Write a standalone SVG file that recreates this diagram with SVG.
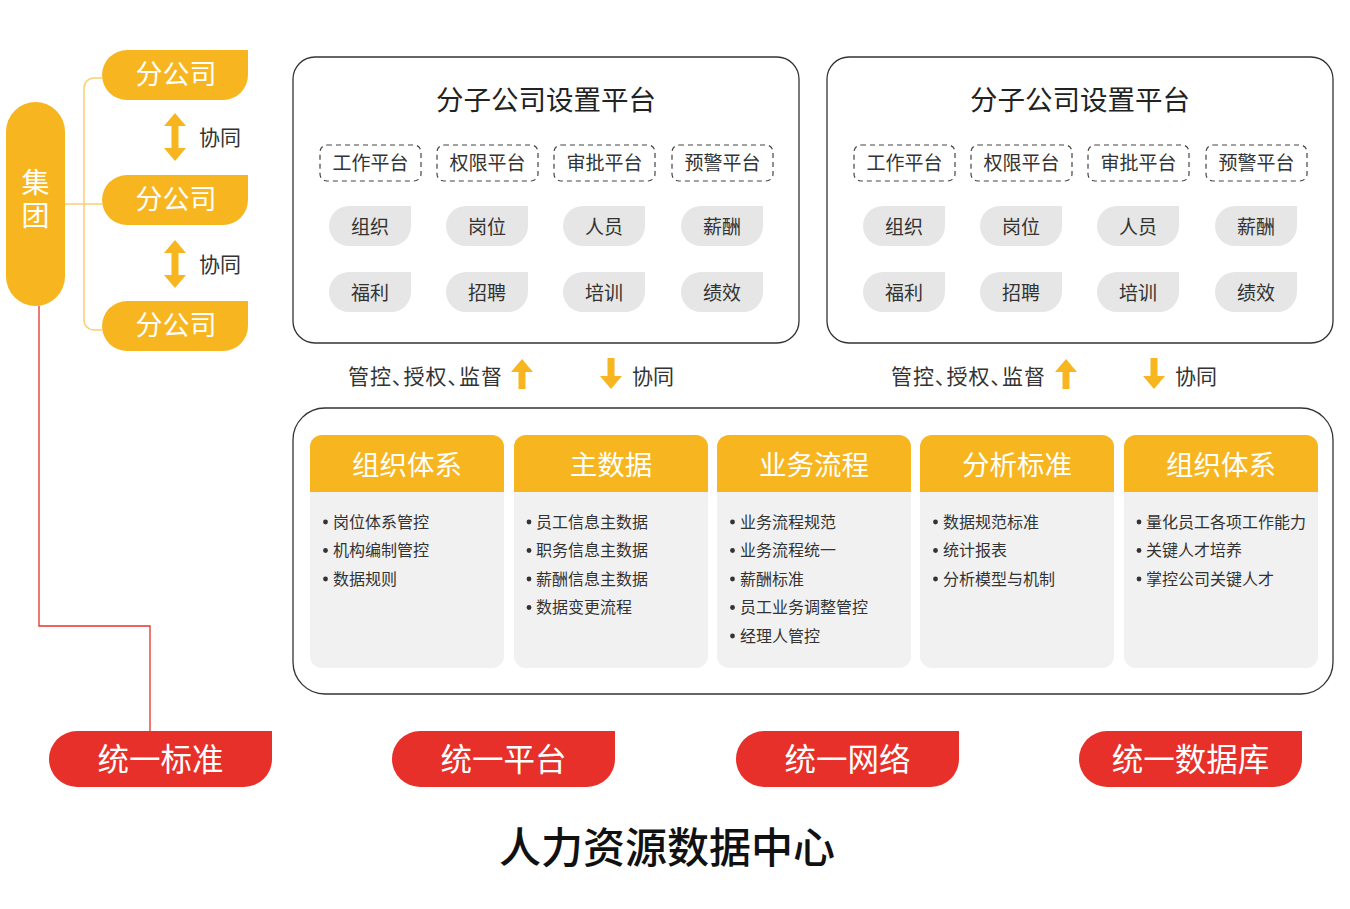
<svg xmlns="http://www.w3.org/2000/svg" width="1350" height="909" viewBox="0 0 1350 909">
<style>
text{font-family:"Noto Sans CJK SC","Noto Sans",sans-serif;}
.y{fill:#F7B61F;}
.r{fill:#E8302A;}
.wt{fill:#fff;text-anchor:middle;}
.dk{fill:#333;}
.ct{text-anchor:middle;}
.panel{fill:#fff;stroke:#333;stroke-width:1.3;}
.dash{fill:#fff;stroke:#444;stroke-width:1.2;stroke-dasharray:5 4;}
.tag{fill:#E6E6E6;}
.card{fill:#F1F1F1;}
.t19{font-size:19px;}
.t16{font-size:16px;}
.dot{fill:#333;}
.hd{font-size:27.5px;}
.palt{font-feature-settings:"palt" 1;letter-spacing:1px;}
.vert{writing-mode:vertical-rl;letter-spacing:5px;}
</style>
<defs>
<path id="sub" d="M25,0 H146 V25 A25,25 0 0 1 121,50 H25 A25,25 0 0 1 25,0 Z"/>
<path id="tagp" d="M20,0 H82 V20 A20,20 0 0 1 62,40 H20 A20,20 0 0 1 20,0 Z"/>
<path id="btn" d="M28,0 H223 V28 A28,28 0 0 1 195,56 H28 A28,28 0 0 1 28,0 Z"/>
<path id="dbl" d="M0,0 L11,13 H3.5 V35 H11 L0,48 L-11,35 H-3.5 V13 H-11 Z"/>
<path id="up" d="M0,0 L11,13 H3.5 V30 H-3.5 V13 H-11 Z"/>
<path id="down" d="M0,31 L11,18 H3.5 V0 H-3.5 V18 H-11 Z"/>
<path id="hdr" d="M0,57 V12 A12,12 0 0 1 12,0 H182 A12,12 0 0 1 194,12 V57 Z"/>
<g id="panelContent">
<rect class="panel" x="0" y="0" width="506" height="286" rx="22"/>
<text x="253" y="53" class="ct" font-size="27.5" fill="#222">分子公司设置平台</text>
<rect class="dash" x="27" y="88" width="101" height="36" rx="7"/>
<rect class="dash" x="144" y="88" width="101" height="36" rx="7"/>
<rect class="dash" x="261" y="88" width="101" height="36" rx="7"/>
<rect class="dash" x="379" y="88" width="101" height="36" rx="7"/>
<text class="dk ct t19" x="77.5" y="113">工作平台</text>
<text class="dk ct t19" x="194.5" y="113">权限平台</text>
<text class="dk ct t19" x="311.5" y="113">审批平台</text>
<text class="dk ct t19" x="429.5" y="113">预警平台</text>
<use href="#tagp" class="tag" x="36" y="149"/>
<use href="#tagp" class="tag" x="153" y="149"/>
<use href="#tagp" class="tag" x="270" y="149"/>
<use href="#tagp" class="tag" x="388" y="149"/>
<use href="#tagp" class="tag" x="36" y="215"/>
<use href="#tagp" class="tag" x="153" y="215"/>
<use href="#tagp" class="tag" x="270" y="215"/>
<use href="#tagp" class="tag" x="388" y="215"/>
<text class="dk ct t19" x="77" y="177">组织</text>
<text class="dk ct t19" x="194" y="177">岗位</text>
<text class="dk ct t19" x="311" y="177">人员</text>
<text class="dk ct t19" x="429" y="177">薪酬</text>
<text class="dk ct t19" x="77" y="243">福利</text>
<text class="dk ct t19" x="194" y="243">招聘</text>
<text class="dk ct t19" x="311" y="243">培训</text>
<text class="dk ct t19" x="429" y="243">绩效</text>
</g>
</defs>

<g id="connectors" fill="none">
<path d="M65,204 H102" stroke="#F9CF73" stroke-width="1.5"/>
<path d="M102,78 H94 A10,10 0 0 0 84,88 V320 A10,10 0 0 0 94,330 H102" stroke="#F9CF73" stroke-width="1.5"/>
<path d="M39,306 V626 H150 V731" stroke="#E8302A" stroke-width="1.3"/>
</g>

<g id="group-jituan">
<rect class="y" x="6" y="102" width="59" height="204" rx="29.5"/>
<text class="wt vert" x="35.5" y="201" font-size="28">集团</text>
</g>

<g id="sub1"><use href="#sub" class="y" x="102" y="50"/><text class="wt" x="176" y="84" font-size="27">分公司</text></g>
<g id="sub2"><use href="#sub" class="y" x="102" y="175"/><text class="wt" x="176" y="209" font-size="27">分公司</text></g>
<g id="sub3"><use href="#sub" class="y" x="102" y="301"/><text class="wt" x="176" y="335" font-size="27">分公司</text></g>

<g id="sync1"><use href="#dbl" class="y" x="175" y="113"/><text class="dk" x="199" y="145" font-size="21">协同</text></g>
<g id="sync2"><use href="#dbl" class="y" x="175" y="240"/><text class="dk" x="199" y="272" font-size="21">协同</text></g>

<g id="panel-left"><use href="#panelContent" x="293" y="57"/></g>
<g id="panel-right"><use href="#panelContent" x="827" y="57"/></g>

<g id="flow-left">
<text class="dk palt" x="348" y="384" font-size="21">管控、授权、监督</text>
<use href="#up" class="y" x="522" y="359"/>
<use href="#down" class="y" x="611" y="358"/>
<text class="dk" x="632" y="384" font-size="21">协同</text>
</g>
<g id="flow-right">
<text class="dk palt" x="891" y="384" font-size="21">管控、授权、监督</text>
<use href="#up" class="y" x="1066" y="359"/>
<use href="#down" class="y" x="1154" y="358"/>
<text class="dk" x="1175" y="384" font-size="21">协同</text>
</g>

<g id="platform">
<rect class="panel" x="293" y="408" width="1040" height="286" rx="32"/>
</g>

<g id="card1">
<rect class="card" x="310" y="435" width="194" height="233" rx="12"/>
<use href="#hdr" class="y" x="310" y="435"/>
<text class="wt hd" x="407" y="475">组织体系</text>
<circle class="dot" cx="325.5" cy="522" r="2.4"/><text class="dk t16" x="333" y="527.5">岗位体系管控</text>
<circle class="dot" cx="325.5" cy="550.5" r="2.4"/><text class="dk t16" x="333" y="556">机构编制管控</text>
<circle class="dot" cx="325.5" cy="579" r="2.4"/><text class="dk t16" x="333" y="584.5">数据规则</text>
</g>
<g id="card2">
<rect class="card" x="514" y="435" width="194" height="233" rx="12"/>
<use href="#hdr" class="y" x="514" y="435"/>
<text class="wt hd" x="611" y="475">主数据</text>
<circle class="dot" cx="529" cy="522" r="2.4"/><text class="dk t16" x="536" y="527.5">员工信息主数据</text>
<circle class="dot" cx="529" cy="550.5" r="2.4"/><text class="dk t16" x="536" y="556">职务信息主数据</text>
<circle class="dot" cx="529" cy="579" r="2.4"/><text class="dk t16" x="536" y="584.5">薪酬信息主数据</text>
<circle class="dot" cx="529" cy="607.5" r="2.4"/><text class="dk t16" x="536" y="613">数据变更流程</text>
</g>
<g id="card3">
<rect class="card" x="717" y="435" width="194" height="233" rx="12"/>
<use href="#hdr" class="y" x="717" y="435"/>
<text class="wt hd" x="814" y="475">业务流程</text>
<circle class="dot" cx="732.5" cy="522" r="2.4"/><text class="dk t16" x="740" y="527.5">业务流程规范</text>
<circle class="dot" cx="732.5" cy="550.5" r="2.4"/><text class="dk t16" x="740" y="556">业务流程统一</text>
<circle class="dot" cx="732.5" cy="579" r="2.4"/><text class="dk t16" x="740" y="584.5">薪酬标准</text>
<circle class="dot" cx="732.5" cy="607.5" r="2.4"/><text class="dk t16" x="740" y="613">员工业务调整管控</text>
<circle class="dot" cx="732.5" cy="636" r="2.4"/><text class="dk t16" x="740" y="641.5">经理人管控</text>
</g>
<g id="card4">
<rect class="card" x="920" y="435" width="194" height="233" rx="12"/>
<use href="#hdr" class="y" x="920" y="435"/>
<text class="wt hd" x="1017" y="475">分析标准</text>
<circle class="dot" cx="935.5" cy="522" r="2.4"/><text class="dk t16" x="943" y="527.5">数据规范标准</text>
<circle class="dot" cx="935.5" cy="550.5" r="2.4"/><text class="dk t16" x="943" y="556">统计报表</text>
<circle class="dot" cx="935.5" cy="579" r="2.4"/><text class="dk t16" x="943" y="584.5">分析模型与机制</text>
</g>
<g id="card5">
<rect class="card" x="1124" y="435" width="194" height="233" rx="12"/>
<use href="#hdr" class="y" x="1124" y="435"/>
<text class="wt hd" x="1221" y="475">组织体系</text>
<circle class="dot" cx="1139" cy="522" r="2.4"/><text class="dk t16" x="1146" y="527.5">量化员工各项工作能力</text>
<circle class="dot" cx="1139" cy="550.5" r="2.4"/><text class="dk t16" x="1146" y="556">关键人才培养</text>
<circle class="dot" cx="1139" cy="579" r="2.4"/><text class="dk t16" x="1146" y="584.5">掌控公司关键人才</text>
</g>

<g id="btn1"><use href="#btn" class="r" x="49" y="731"/><text class="wt" x="160.5" y="771" font-size="31.5">统一标准</text></g>
<g id="btn2"><use href="#btn" class="r" x="392" y="731"/><text class="wt" x="503.5" y="771" font-size="31.5">统一平台</text></g>
<g id="btn3"><use href="#btn" class="r" x="736" y="731"/><text class="wt" x="847.5" y="771" font-size="31.5">统一网络</text></g>
<g id="btn4"><use href="#btn" class="r" x="1079" y="731"/><text class="wt" x="1190.5" y="771" font-size="31.5">统一数据库</text></g>

<text id="title" x="667" y="863" class="ct" font-size="42" font-weight="500" fill="#111">人力资源数据中心</text>
</svg>
